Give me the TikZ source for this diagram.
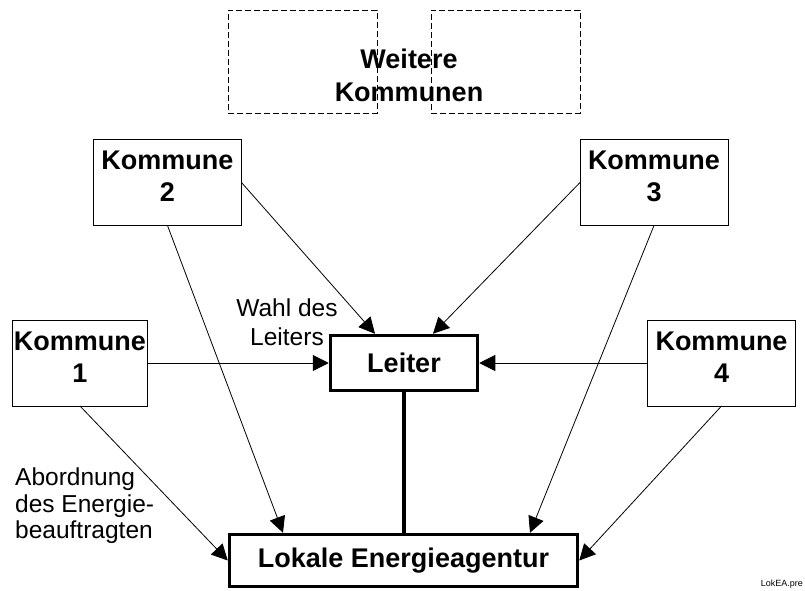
\documentclass[tikz,border=0pt]{standalone}
\usepackage{fontspec}
\setmainfont{Liberation Sans}
\usetikzlibrary{arrows.meta,calc}
\begin{document}
\begin{tikzpicture}[x=1pt,y=-1pt,
  kbox/.style={draw,line width=1pt,minimum width=148pt,minimum height=86pt,inner sep=0pt,outer sep=0pt},
  ktext/.style={align=center,inner sep=0pt,yshift=6pt,font=\fontsize{27}{32}\selectfont\bfseries},
  thickbox/.style={draw,line width=3.5pt,inner sep=0pt,font=\fontsize{27}{32}\selectfont\bfseries},
  dbox/.style={draw,line width=1pt,dash pattern=on 6pt off 3pt,minimum width=149pt,minimum height=103pt,inner sep=0pt},
  arr/.style={line width=0.8pt,-{Triangle[length=16pt,width=16pt]}},
  note/.style={inner sep=0pt,font=\fontsize{24.5}{29}\selectfont}
]
\useasboundingbox (0,0) rectangle (805,590);
% dashed boxes
\node[dbox] (w1) at (302.5,61.5) {};
\node[dbox] (w2) at (505.5,61.5) {};
\node[align=center,inner sep=0pt,font=\fontsize{27}{33}\selectfont\bfseries] (wk) at (409,75.5) {Weitere\\Kommunen};
% Kommune boxes
\node[kbox,minimum width=135pt,label={[ktext]center:{Kommune\\1}}] (k1) at (80,363) {};
\node[kbox,label={[ktext]center:{Kommune\\2}}] (k2) at (167.5,182.5) {};
\node[kbox,label={[ktext]center:{Kommune\\3}}] (k3) at (654,182.5) {};
\node[kbox,label={[ktext]center:{Kommune\\4}}] (k4) at (721.5,363) {};
% Leiter and agency
\node[thickbox,minimum width=147pt,minimum height=55pt] (L) at (404,363) {Leiter};
\node[thickbox,minimum width=348pt,minimum height=52pt] (E) at (403.5,560.5) {Lokale Energieagentur};
% connectors
\draw[line width=4.5pt] (L.south) -- (L.south |- E.north);
\draw[arr] (k1.east) -- (L.west);
\draw[arr] (k4.west) -- (L.east);
\draw[arr] (k2.east) -- ([xshift=-29pt]L.north);
\draw[arr] (k3.west) -- ([xshift=29pt]L.north);
\draw[arr] (k2.south) -- ([xshift=-120.5pt]E.north);
\draw[arr] (k3.south) -- ([xshift=126.5pt]E.north);
\draw[arr] (k1.south) -- (E.west);
\draw[arr] (k4.south) -- (E.east);
% labels
\node[note,align=center] (wahl) at (287,322) {Wahl des\\Leiters};
\node[note,align=left,anchor=west,font=\fontsize{24.5}{26.5}\selectfont] (abo) at (15,506) {Abordnung\\des Energie-\\beauftragten};
\node[inner sep=0pt,anchor=east,font=\fontsize{9}{10}\selectfont] (src) at (803,584) {LokEA.pre};
\end{tikzpicture}
\end{document}
